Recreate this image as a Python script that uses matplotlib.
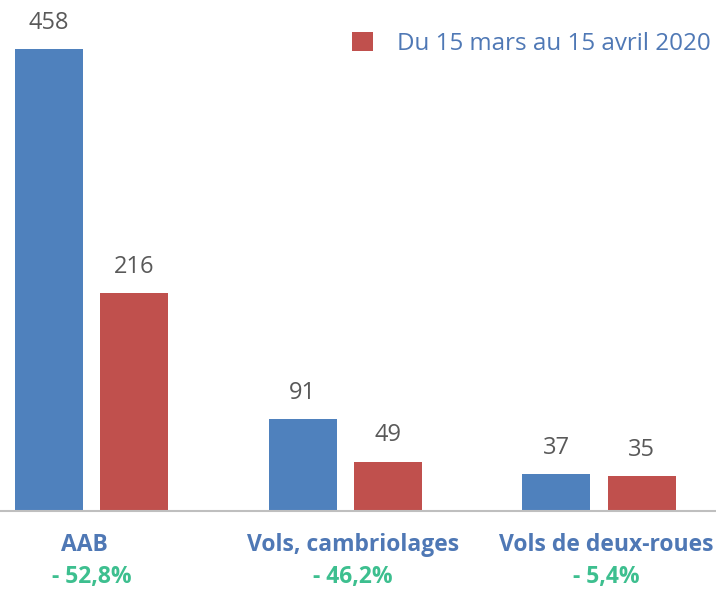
import matplotlib
matplotlib.use("Agg")
import matplotlib.pyplot as plt
import numpy as np

categories = ["AAB", "Vols, cambriolages", "Vols de deux-roues"]
values_2019 = [458, 91, 37]
values_2020 = [216, 49, 35]
changes = ["- 52,8%", "- 46,2%", "- 5,4%"]
legend_label = "Du 15 mars au 15 avril 2020"

BLUE = "#4F81BD"
RED = "#C0504D"
TXT_BLUE = "#4F78B5"
GREEN = "#3DBF8F"
GRAY = "#595959"

plt.rcParams["font.family"] = ["Open Sans", "DejaVu Sans"]

fig = plt.figure(figsize=(7.16, 5.9), dpi=100)
ax = fig.add_axes([0, 1 - 511 / 590, 1, 511 / 590])

x = np.arange(len(categories))
w = 0.268
off = 0.1677
b1 = ax.bar(x - off, values_2019, w, color=BLUE)
b2 = ax.bar(x + off, values_2020, w, color=RED, label=legend_label)

for bars, vals in ((b1, values_2019), (b2, values_2020)):
    for b, v in zip(bars, vals):
        ax.text(b.get_x() + b.get_width() / 2, v + 14, str(v), ha="center",
                va="bottom", fontsize=17, color=GRAY)

ax.set_xlim(-0.361, 2.461)
ax.set_ylim(0, 506.6)
ax.set_xticks([])
ax.set_yticks([])
for s in ("top", "right", "left"):
    ax.spines[s].set_visible(False)
ax.spines["bottom"].set_color("#BFBFBF")
ax.spines["bottom"].set_linewidth(1.5)

label_dx = [-0.03, 0.03, 0.03]
pct_dx = [0.0, 0.03, 0.03]
for i, (c, p) in enumerate(zip(categories, changes)):
    ax.text(x[i] + label_dx[i], -34, c, ha="center", va="center", fontsize=16.5,
            fontweight="bold", color=TXT_BLUE, clip_on=False)
    ax.text(x[i] + pct_dx[i], -65, p, ha="center", va="center",
            fontsize=16.5, fontweight="bold", color=GREEN, clip_on=False)

leg = ax.legend(loc="upper right", bbox_to_anchor=(1.023, 0.98), frameon=False,
                fontsize=17.4, handlelength=0.85, handleheight=0.85, handletextpad=1.0)
for t in leg.get_texts():
    t.set_color(TXT_BLUE)

fig.savefig("out.png", dpi=100)
